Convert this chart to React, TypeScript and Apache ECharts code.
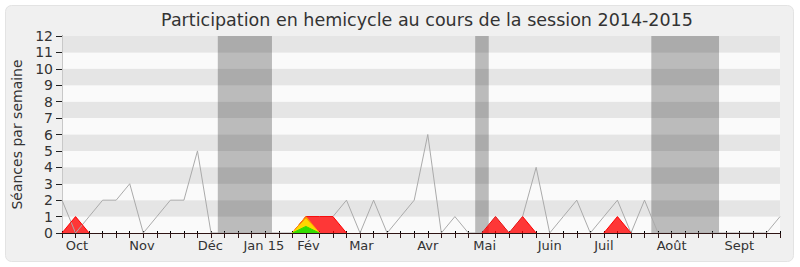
import React, { useEffect, useRef } from "react";
import * as echarts from "echarts";

// Weekly sittings, one value per week of the 2014-2015 session (54 weeks)
const seances = [
  2, 0, 1, 2, 2, 3, 0, 1, 2, 2, 5, 0, 0, 0, 0, 0, 0, 0, 1, 1, 1, 2, 0, 2, 0, 1, 2,
  6, 0, 1, 0, 0, 1, 0, 1, 4, 0, 1, 2, 0, 1, 2, 0, 2, 0, 0, 0, 0, 0, 0, 0, 0, 0, 1,
];
// Weekly presence in the chamber
const presences = [
  0, 1, 0, 0, 0, 0, 0, 0, 0, 0, 0, 0, 0, 0, 0, 0, 0, 0, 1, 1, 1, 0, 0, 0, 0, 0, 0,
  0, 0, 0, 0, 0, 1, 0, 1, 0, 0, 0, 0, 0, 0, 1, 0, 0, 0, 0, 0, 0, 0, 0, 0, 0, 0, 0,
];
const interventionsLongues = [
  0, 0, 0, 0, 0, 0, 0, 0, 0, 0, 0, 0, 0, 0, 0, 0, 0, 0, 1, 0, 0, 0, 0, 0, 0, 0, 0,
  0, 0, 0, 0, 0, 0, 0, 0, 0, 0, 0, 0, 0, 0, 0, 0, 0, 0, 0, 0, 0, 0, 0, 0, 0, 0, 0,
];
const interventionsCourtes = [
  0, 0, 0, 0, 0, 0, 0, 0, 0, 0, 0, 0, 0, 0, 0, 0, 0, 0, 0.85, 0, 0, 0, 0, 0, 0, 0, 0,
  0, 0, 0, 0, 0, 0, 0, 0, 0, 0, 0, 0, 0, 0, 0, 0, 0, 0, 0, 0, 0, 0, 0, 0, 0, 0, 0,
];
const questions = [
  0, 0, 0, 0, 0, 0, 0, 0, 0, 0, 0, 0, 0, 0, 0, 0, 0, 0, 0.4, 0, 0, 0, 0, 0, 0, 0, 0,
  0, 0, 0, 0, 0, 0, 0, 0, 0, 0, 0, 0, 0, 0, 0, 0, 0, 0, 0, 0, 0, 0, 0, 0, 0, 0, 0,
];

// Month labels and their position on the week axis
const monthLabels = ["Oct", "Nov", "Déc", "Jan 15", "Fév", "Mar", "Avr", "Mai", "Juin", "Juil", "Août", "Sept"];
const monthWeeks = [1.1, 5.9, 10.95, 14.9, 18.2, 22.1, 27, 31.2, 36, 40, 45, 50];

// Parliamentary recess periods (week positions)
const vacancesDebut = [11.5, 30.5, 43.5];
const vacancesFin = [15.5, 31.5, 48.5];

const FONT = "DejaVu Sans";
const AXIS_COLOR = "#2e1414";
const LAST_WEEK = seances.length - 1;

const pairs = (vals: number[]) => vals.map((v, i) => [i, v]);

// Keep only the humps of a filled series: weeks at zero whose neighbours are
// also at zero become gaps, so no stroke runs along the baseline.
const humps = (vals: number[]) =>
  vals.map((v, i) => {
    const prev = i > 0 ? vals[i - 1] : 0;
    const next = i < vals.length - 1 ? vals[i + 1] : 0;
    return [i, v === 0 && prev === 0 && next === 0 ? null : v];
  });

export default function App() {
  const ref = useRef<HTMLDivElement>(null);

  useEffect(() => {
    if (!ref.current) return;
    const chart = echarts.init(ref.current, null, { renderer: "svg" });

    const areaSeries = (name: string, vals: number[], line: string, fill: string) => ({
      name,
      type: "line",
      data: humps(vals),
      connectNulls: false,
      symbol: "none",
      lineStyle: { color: line, width: 1 },
      areaStyle: { color: fill, opacity: 1 },
    });

    chart.setOption({
      animation: false,
      backgroundColor: "#ffffff",
      graphic: [
        {
          type: "rect",
          z: -10,
          shape: { x: 5.5, y: 5.5, width: 788, height: 256, r: 6 },
          style: { fill: "#f0f0f0", stroke: "#e3e3e3", lineWidth: 1 },
        },
        {
          type: "text",
          x: 427,
          y: 20,
          style: {
            text: "Participation en hemicycle au cours de la session 2014-2015",
            fill: "#333",
            font: `17.5px "${FONT}"`,
            textAlign: "center",
            textVerticalAlign: "middle",
          },
        },
      ],
      grid: { left: 62, right: 20, top: 36, bottom: 34 },
      xAxis: [
        {
          type: "value",
          min: 0,
          max: LAST_WEEK,
          interval: 1,
          axisLine: { show: true, lineStyle: { color: AXIS_COLOR, width: 1 } },
          axisTick: { show: true, length: 5, lineStyle: { color: AXIS_COLOR } },
          axisLabel: {
            customValues: monthWeeks,
            formatter: (v: number) => {
              const k = monthWeeks.indexOf(v);
              return k >= 0 ? monthLabels[k] : "";
            },
            color: "#333",
            fontFamily: FONT,
            fontSize: 13,
            margin: 6,
          },
          splitLine: { show: false },
        },
        {
          type: "value",
          position: "top",
          min: 0,
          max: LAST_WEEK,
          interval: 1,
          axisLine: { show: false },
          axisTick: { show: true, length: 2, lineStyle: { color: "#000" } },
          axisLabel: { show: false },
          splitLine: { show: false },
        },
      ],
      yAxis: [
        {
          type: "value",
          min: 0,
          max: 12,
          interval: 1,
          name: "Séances par semaine",
          nameLocation: "middle",
          nameGap: 38,
          nameTextStyle: { color: "#333", fontFamily: FONT, fontSize: 14 },
          axisLine: { show: true, lineStyle: { color: "#222" } },
          axisTick: { show: true, length: 6, lineStyle: { color: "#222" } },
          axisLabel: { color: "#333", fontFamily: FONT, fontSize: 14, margin: 9 },
          splitLine: { show: false },
          splitArea: { show: true, areaStyle: { color: ["#fafafa", "#e5e5e5"] } },
        },
        {
          type: "value",
          position: "right",
          min: 0,
          max: 12,
          interval: 1,
          axisLine: { show: true, lineStyle: { color: "#c8c8c8" } },
          axisTick: { show: false },
          axisLabel: { show: false },
          splitLine: { show: false },
        },
      ],
      series: [
        {
          name: "Séances",
          type: "line",
          data: pairs(seances),
          symbol: "none",
          lineStyle: { color: "#aaaaaa", width: 1 },
          markArea: {
            silent: true,
            itemStyle: { color: "rgba(0,0,0,0.25)" },
            data: vacancesDebut.map((d, i) => [{ xAxis: d }, { xAxis: vacancesFin[i] }]),
          },
        },
        areaSeries("Présences", presences, "#ff0000", "rgba(255,0,0,0.78)"),
        areaSeries("Interventions longues", interventionsLongues, "#ff9900", "#ff9900"),
        areaSeries("Interventions courtes", interventionsCourtes, "#ffd700", "#ffd700"),
        {
          ...areaSeries("Questions", questions, "#33dd00", "#33dd00"),
          // baseline redrawn above the filled humps
          markLine: {
            silent: true,
            symbol: "none",
            label: { show: false },
            lineStyle: { color: AXIS_COLOR, width: 1, type: "solid" },
            data: [{ yAxis: 0 }],
          },
        },
      ],
    });

    return () => chart.dispose();
  }, []);

  return (
    <div
      ref={ref}
      style={{ position: "fixed", left: 0, top: 0, width: 800, height: 267 }}
    />
  );
}
